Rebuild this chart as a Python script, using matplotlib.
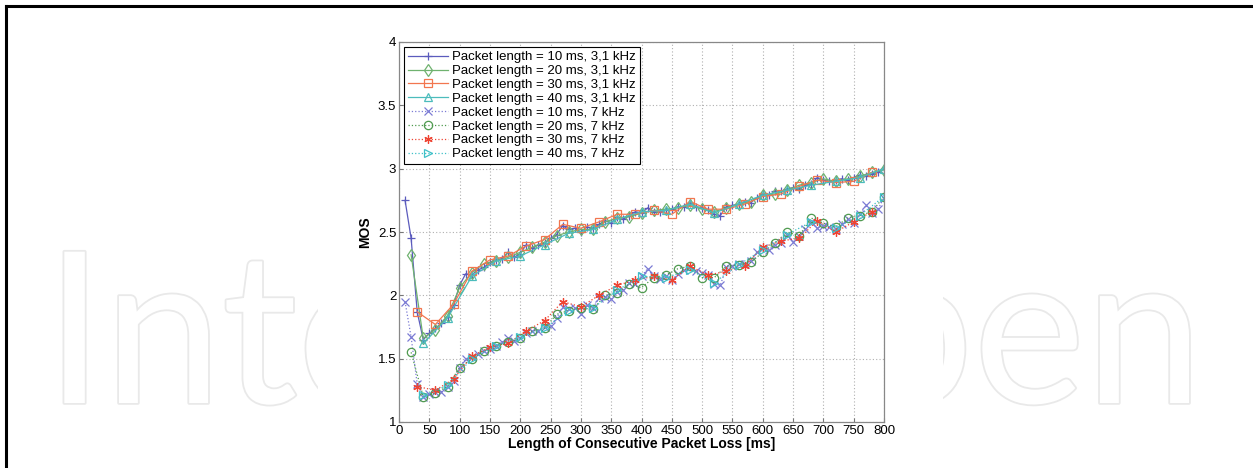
import matplotlib
matplotlib.use("Agg")
import matplotlib.pyplot as plt
import matplotlib.patheffects as pe
from matplotlib.lines import Line2D
from matplotlib.patches import Rectangle

# MOS for 3.1 kHz band, one point per packet length step
nb_10 = [2.75, 2.45, 1.87, 1.65, 1.70, 1.74, 1.78, 1.83, 1.92, 2.08,
         2.17, 2.16, 2.20, 2.22, 2.26, 2.28, 2.29, 2.34, 2.30, 2.33,
         2.40, 2.37, 2.40, 2.41, 2.45, 2.48, 2.55, 2.52, 2.53, 2.50,
         2.54, 2.53, 2.56, 2.59, 2.57, 2.62, 2.60, 2.63, 2.66, 2.65,
         2.69, 2.66, 2.66, 2.67, 2.68, 2.70, 2.70, 2.73, 2.70, 2.69,
         2.67, 2.64, 2.63, 2.70, 2.71, 2.72, 2.74, 2.73, 2.77, 2.80,
         2.79, 2.82, 2.82, 2.84, 2.85, 2.84, 2.87, 2.88, 2.93, 2.91,
         2.90, 2.91, 2.92, 2.91, 2.93, 2.95, 2.94, 2.96, 2.97, 3.00]
nb_20 = [2.32, 1.66, 1.73, 1.84, 2.06, 2.18, 2.25, 2.27, 2.30, 2.34,
         2.38, 2.42, 2.47, 2.50, 2.52, 2.52, 2.58, 2.61, 2.62, 2.65,
         2.67, 2.68, 2.69, 2.71, 2.68, 2.66, 2.69, 2.72, 2.74, 2.79,
         2.80, 2.83, 2.87, 2.89, 2.92, 2.90, 2.92, 2.94, 2.97, 2.99]
nb_30 = [1.87, 1.77, 1.93, 2.19, 2.28, 2.31, 2.39, 2.44, 2.56, 2.53,
         2.58, 2.64, 2.64, 2.67, 2.64, 2.74, 2.68, 2.68, 2.72, 2.78,
         2.80, 2.86, 2.91, 2.89, 2.90, 2.97]
nb_40 = [1.62, 1.82, 2.15, 2.27, 2.31, 2.40, 2.49, 2.52, 2.60, 2.66,
         2.67, 2.72, 2.65, 2.72, 2.79, 2.83, 2.87, 2.90, 2.93, 3.00]

# MOS for 7 kHz band
wb_10 = [1.95, 1.67, 1.30, 1.20, 1.22, 1.24, 1.24, 1.28, 1.32, 1.43,
         1.50, 1.51, 1.54, 1.56, 1.58, 1.60, 1.63, 1.66, 1.64, 1.66,
         1.70, 1.72, 1.72, 1.75, 1.76, 1.82, 1.91, 1.89, 1.90, 1.85,
         1.92, 1.90, 1.98, 1.99, 1.97, 2.03, 2.04, 2.10, 2.09, 2.15,
         2.21, 2.15, 2.13, 2.15, 2.12, 2.17, 2.20, 2.22, 2.19, 2.18,
         2.16, 2.09, 2.08, 2.22, 2.23, 2.25, 2.25, 2.27, 2.34, 2.37,
         2.36, 2.40, 2.41, 2.48, 2.42, 2.47, 2.52, 2.58, 2.53, 2.55,
         2.54, 2.52, 2.56, 2.60, 2.57, 2.64, 2.71, 2.65, 2.68, 2.77]
wb_20 = [1.55, 1.20, 1.23, 1.28, 1.43, 1.50, 1.56, 1.60, 1.63, 1.66,
         1.72, 1.74, 1.85, 1.88, 1.90, 1.89, 2.00, 2.02, 2.09, 2.06,
         2.14, 2.16, 2.21, 2.23, 2.14, 2.14, 2.23, 2.24, 2.26, 2.34,
         2.41, 2.50, 2.47, 2.61, 2.57, 2.54, 2.61, 2.63, 2.66, 2.78]
wb_30 = [1.28, 1.25, 1.34, 1.52, 1.59, 1.62, 1.72, 1.80, 1.95, 1.91,
         2.00, 2.08, 2.12, 2.15, 2.12, 2.23, 2.16, 2.19, 2.23, 2.38,
         2.43, 2.45, 2.59, 2.50, 2.58, 2.66]
wb_40 = [1.21, 1.29, 1.50, 1.60, 1.67, 1.74, 1.88, 1.90, 2.04, 2.15,
         2.14, 2.20, 2.10, 2.24, 2.36, 2.48, 2.58, 2.53, 2.63, 2.78]

packet_lengths = [10, 20, 30, 40]
x_ticks = list(range(0, 801, 50))
y_ticks = [1, 1.5, 2, 2.5, 3, 3.5, 4]

plt.rcParams['font.family'] = ['Liberation Sans', 'DejaVu Sans']

W, H = 1253, 468
fig = plt.figure(figsize=(W / 100, H / 100), dpi=100)

# faint outlined watermark, split around the chart panel
halo = [pe.withStroke(linewidth=2.6, foreground="#e9e9e9")]
fig.text(45 / W, 1 - 403 / H, "Inte", fontsize=152, family="Lato",
         color="white", ha="left", va="baseline", path_effects=halo, zorder=0)
fig.text(1203 / W, 1 - 403 / H, "pen", fontsize=152, family="Lato",
         color="white", ha="right", va="baseline", path_effects=halo, zorder=0)
fig.patches.append(Rectangle((318 / W, 0.02), (943 - 318) / W, 0.96,
                             transform=fig.transFigure, facecolor="white",
                             edgecolor="none", zorder=1))

# page border (top and left)
fig.add_artist(Line2D([6 / W, 1], [1 - 6 / H, 1 - 6 / H],
                      transform=fig.transFigure, color="black", lw=2.2))
fig.add_artist(Line2D([6 / W, 6 / W], [0, 1 - 6 / H],
                      transform=fig.transFigure, color="black", lw=2.2))

ax = fig.add_axes([399 / W, 1 - 422 / H, 485 / W, 380 / H])
ax.set_zorder(2)

asterisk = (6, 2, 0)
styles = [
    (nb_10, 10, "#5b5bbd", "+", "-", "Packet length = 10 ms, 3,1 kHz"),
    (nb_20, 20, "#6fb26f", "d", "-", "Packet length = 20 ms, 3,1 kHz"),
    (nb_30, 30, "#f2764f", "s", "-", "Packet length = 30 ms, 3,1 kHz"),
    (nb_40, 40, "#4cbcbc", "^", "-", "Packet length = 40 ms, 3,1 kHz"),
    (wb_10, 10, "#7b7bd4", "x", ":", "Packet length = 10 ms, 7 kHz"),
    (wb_20, 20, "#4f9a4f", "o", ":", "Packet length = 20 ms, 7 kHz"),
    (wb_30, 30, "#ee4433", asterisk, ":", "Packet length = 30 ms, 7 kHz"),
    (wb_40, 40, "#3fc0c8", ">", ":", "Packet length = 40 ms, 7 kHz"),
]

for values, step, color, marker, ls, label in styles:
    xs = [step * (i + 1) for i in range(len(values))]
    ax.plot(xs, values, color=color, marker=marker, linestyle=ls,
            linewidth=0.9, markersize=6, markerfacecolor="none",
            markeredgecolor=color, markeredgewidth=0.9, label=label)

ax.set_xlim(0, 800)
ax.set_ylim(1, 4)
ax.set_xticks(x_ticks)
ax.set_yticks(y_ticks)
ax.set_yticklabels(["1", "1.5", "2", "2.5", "3", "3.5", "4"])
ax.tick_params(direction="in", length=3, labelsize=9.5, color="#777777",
               pad=2)
ax.grid(True, linestyle=(0, (1, 2)), color="#b0b0b0", linewidth=0.8)
for s in ax.spines.values():
    s.set_color("#888888")
    s.set_linewidth(0.9)

ax.set_xlabel("Length of Consecutive Packet Loss [ms]", fontsize=10,
              fontweight="bold", labelpad=0)
ax.set_ylabel("MOS", fontsize=10, fontweight="bold", labelpad=4)

leg = ax.legend(loc="upper left", fontsize=9.5, handlelength=3.0,
                handletextpad=0.35, borderpad=0.3, labelspacing=0.12,
                fancybox=False, framealpha=1, borderaxespad=0.4)
leg.get_frame().set_edgecolor("black")
leg.get_frame().set_linewidth(0.8)

fig.savefig("out.png", dpi=100)
